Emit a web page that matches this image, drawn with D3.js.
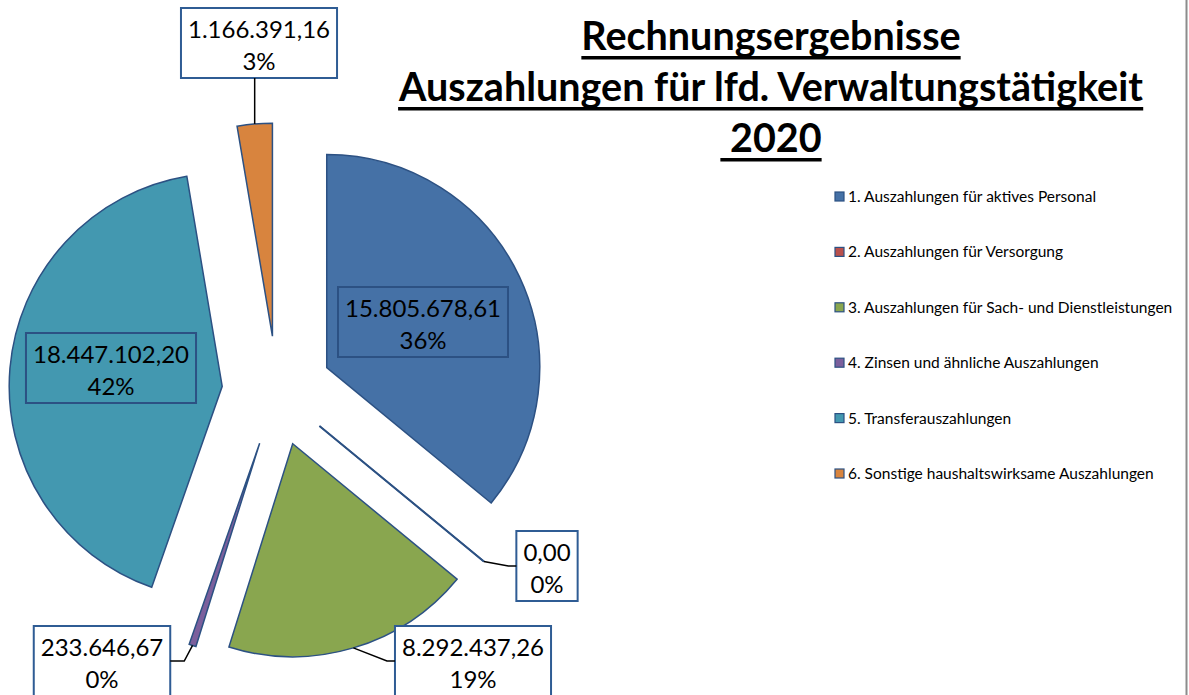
<!DOCTYPE html>
<html>
<head>
<meta charset="utf-8">
<script src="https://cdn.jsdelivr.net/npm/d3@7"></script>
<style>
	body { margin: 0; background: #fff; }
	svg { display: block; font-family: Lato, "Open Sans", sans-serif; }
</style>
</head>
<body>
<svg id="chart" width="1189" height="695"></svg>
<script>
// Daten
var categories = [
	"1. Auszahlungen für aktives Personal",
	"2. Auszahlungen für Versorgung",
	"3. Auszahlungen für Sach- und Dienstleistungen",
	"4. Zinsen und ähnliche Auszahlungen",
	"5. Transferauszahlungen",
	"6. Sonstige haushaltswirksame Auszahlungen"
];
var values = [15805678.61, 0, 8292437.26, 233646.67, 18447102.20, 1166391.16];
var percents = ["36%", "0%", "19%", "0%", "42%", "3%"];
var titleLines = ["Rechnungsergebnisse", "Auszahlungen für lfd. Verwaltungstätigkeit", " 2020"];

var colors = ["#4571a6", "#b9504c", "#89a64f", "#7b5f9c", "#4398b0", "#d8843e"];

var svg = d3.select("#chart");

var center = {x: 277, y: 391},
	radius = 213,
	explode = 55;

// Lage der Beschriftungen (Mittelpunkt des Kastens relativ zur Kreismitte)
var labelPos = [[146, -69], [270, 175], [196, 270], [-175, 270], [-166, -23], [-18, -348]];
var inside = [true, false, false, false, true, false];

var de = d3.formatLocale({decimal: ",", thousands: ".", grouping: [3], currency: ["", " €"]});
var fmt = de.format(",.2f");

var pie = d3.pie().sort(null).value(function(d) { return d; });
var arc = d3.arc().innerRadius(0).outerRadius(radius);
var arcs = pie(values);

function dir(a) { return [Math.sin(a), -Math.cos(a)]; }

var g = svg.append("g")
	.attr("transform", "translate(" + center.x + "," + center.y + ")");

// Segmente
var slice = g.selectAll(".slice")
	.data(arcs)
	.enter().append("g")
	.attr("class", "slice")
	.attr("transform", function(d) {
		var m = dir((d.startAngle + d.endAngle) / 2);
		return "translate(" + m[0] * explode + "," + m[1] * explode + ")";
	});

slice.append("path")
	.attr("d", arc)
	.attr("fill", function(d, i) { return colors[i]; })
	.attr("stroke", "#2c5183")
	.attr("stroke-width", 1.5)
	.attr("stroke-linejoin", "miter");

// Segment mit 0 % als Linie
slice.filter(function(d) { return d.value === 0; })
	.append("line")
	.attr("x1", 0).attr("y1", 0)
	.attr("x2", function(d) { return dir(d.startAngle)[0] * radius; })
	.attr("y2", function(d) { return dir(d.startAngle)[1] * radius; })
	.attr("stroke", "#2c5183")
	.attr("stroke-width", 2);

// Beschriftungen
var labels = g.selectAll(".lbl")
	.data(arcs)
	.enter().append("g")
	.attr("class", "lbl")
	.attr("transform", function(d, i) { return "translate(" + labelPos[i][0] + "," + labelPos[i][1] + ")"; });

var rects = labels.append("rect")
	.attr("fill", function(d, i) { return inside[i] ? "none" : "#fff"; })
	.attr("stroke", function(d, i) { return inside[i] ? "#2c5183" : "#2f5c94"; })
	.attr("stroke-width", 2);

var txt = labels.append("text")
	.attr("text-anchor", "middle")
	.attr("font-size", 24)
	.attr("fill", "#000");
txt.append("tspan").attr("x", 0).attr("y", -5)
	.text(function(d) { return fmt(d.value); });
txt.append("tspan").attr("x", 0).attr("y", 27)
	.text(function(d, i) { return percents[i]; });

rects.each(function(d, i) {
	var b = this.parentNode.querySelector("text").getBBox();
	var w = b.width + 14, h = 70;
	d3.select(this).attr("x", -w / 2).attr("y", -h / 2).attr("width", w).attr("height", h);
	d.box = {w: w, h: h};
});

// Führungslinien
var leader = g.selectAll(".leader")
	.data(arcs.filter(function(d, i) { return !inside[i]; }))
	.enter().append("polyline")
	.attr("fill", "none")
	.attr("stroke", "#000")
	.attr("stroke-width", 1.5)
	.attr("points", function(d) {
		var i = d.index, m = dir((d.startAngle + d.endAngle) / 2);
		var p = [m[0] * (radius + explode), m[1] * (radius + explode)];
		var lx = labelPos[i][0], ly = labelPos[i][1];
		var pts;
		if (ly + d.box.h / 2 < p[1]) {
			var by = ly + d.box.h / 2;
			pts = [p, [p[0], by]];
		} else if (lx > p[0]) {
			var ex = lx - d.box.w / 2;
			pts = [p, [ex - 8, ly], [ex, ly]];
		} else {
			var ex2 = lx + d.box.w / 2;
			pts = [p, [ex2 + 14, ly], [ex2, ly]];
		}
		return pts.map(function(q) { return q.join(","); }).join(" ");
	});

// Titel
var title = svg.append("g").attr("class", "title");
titleLines.forEach(function(t, i) {
	var tx = title.append("text")
		.attr("x", 771)
		.attr("y", 50 + i * 51)
		.attr("text-anchor", "middle")
		.attr("font-size", 39.5)
		.attr("font-weight", "bold")
		.attr("xml:space", "preserve")
		.style("white-space", "pre")
		.text(t);
	var b = tx.node().getBBox();
	title.append("rect")
		.attr("x", b.x)
		.attr("y", 50 + i * 51 + 6)
		.attr("width", b.width)
		.attr("height", 3.5)
		.attr("fill", "#000");
});

// Legende
var legend = svg.append("g")
	.attr("transform", "translate(835,197)");
var item = legend.selectAll(".item")
	.data(categories)
	.enter().append("g")
	.attr("class", "item")
	.attr("transform", function(d, i) { return "translate(0," + i * 55.4 + ")"; });
item.append("rect")
	.attr("x", 0).attr("y", -5)
	.attr("width", 9).attr("height", 9)
	.attr("fill", function(d, i) { return colors[i]; })
	.attr("stroke", "#2c5183")
	.attr("stroke-width", 1.2);
item.append("text")
	.attr("x", 13)
	.attr("y", 5)
	.attr("font-size", 15.5)
	.text(function(d) { return d; });

// Rahmen rechts
svg.append("line")
	.attr("x1", 1186.5).attr("x2", 1186.5)
	.attr("y1", 0).attr("y2", 695)
	.attr("stroke", "#8c8c8c")
	.attr("stroke-width", 2);
</script>
</body>
</html>
